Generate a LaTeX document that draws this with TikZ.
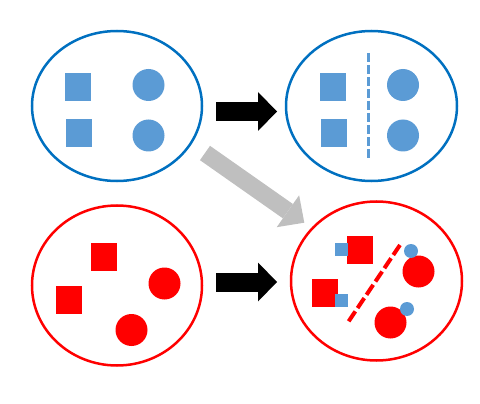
\documentclass[tikz,border=0pt]{standalone}
\usepackage{tikz}
\usetikzlibrary{shapes,arrows.meta,positioning,calc}
\definecolor{ringblue}{RGB}{0,112,192}
\definecolor{dotblue}{RGB}{91,155,213}
\definecolor{arrowgray}{RGB}{191,191,191}

\begin{document}
\begin{tikzpicture}[x=1pt,y=-1pt]
    % Stili
    \tikzset{
        cluster/.style={ellipse, draw, line width=2.5pt, inner sep=0pt, minimum width=170pt, minimum height=150pt},
        sq/.style={rectangle, inner sep=0pt, minimum width=26pt, minimum height=28pt},
        dot/.style={circle, inner sep=0pt, minimum size=32pt},
        minisq/.style={rectangle, fill=dotblue, inner sep=0pt, minimum size=13pt},
        minidot/.style={circle, fill=dotblue, inner sep=0pt, minimum size=14pt},
        bigarrow/.style={-{Triangle[length=19pt, width=39pt, line width=0pt]}, line width=19pt, black},
        slantarrow/.style={-{Triangle[length=20pt, width=39pt, line width=0pt]}, line width=17.5pt, arrowgray},
        divider/.style={line width=3pt, dash pattern=on 9pt off 3pt}
    }
    \useasboundingbox (0,0) rectangle (480,404);

    % Gruppi
    \node[cluster, draw=ringblue] (tl) at (117,106) {};
    \node[cluster, draw=ringblue, minimum width=171pt] (tr) at (371.5,106) {};
    \node[cluster, draw=red, minimum height=160pt] (bl) at (117,285.5) {};
    \node[cluster, draw=red, minimum width=171pt, minimum height=159pt] (br) at (376.5,281) {};

    % Elementi blu (sopra)
    \foreach \g/\dx in {tl/0, tr/254.5} {
        \node[sq, fill=dotblue] (\g-sq1) at (78+\dx,87) {};
        \node[sq, fill=dotblue] (\g-sq2) at (79+\dx,133) {};
        \node[dot, fill=dotblue] (\g-dot1) at (148.5+\dx,85) {};
        \node[dot, fill=dotblue] (\g-dot2) at (148.5+\dx,135.5) {};
    }
    \draw[divider, dotblue] ([xshift=-3.5pt,yshift=53pt]tr.center) -- ([xshift=-3.5pt,yshift=-54pt]tr.center);

    % Elementi rossi (sotto)
    \node[sq, fill=red] (bl-sq1) at (104,256.5) {};
    \node[sq, fill=red] (bl-sq2) at (69,299.5) {};
    \node[dot, fill=red] (bl-dot1) at (164.5,283.5) {};
    \node[dot, fill=red] (bl-dot2) at (131.5,330) {};

    \node[sq, fill=red] (br-sq1) at (360,250) {};
    \node[sq, fill=red] (br-sq2) at (325,293) {};
    \node[dot, fill=red] (br-dot1) at (418.5,271.5) {};
    \node[dot, fill=red] (br-dot2) at (390.5,322.5) {};
    \node[minisq] (br-msq1) at (341.5,249) {};
    \node[minisq] (br-msq2) at (341,300.5) {};
    \node[minidot] (br-mdot1) at (411,251) {};
    \node[minidot] (br-mdot2) at (407,309) {};
    \draw[red, line width=4pt, dash pattern=on 12pt off 4pt] ([xshift=23.5pt,yshift=36pt]br.center) -- ([xshift=-29.2pt,yshift=-42.3pt]br.center);

    % Frecce
    \draw[bigarrow] ([xshift=99pt,yshift=-5.5pt]tl.center) -- ([xshift=-94.5pt,yshift=-5.5pt]tr.center);
    \draw[bigarrow] ([xshift=99pt,yshift=3.5pt]bl.center) -- ([xshift=-99.5pt,yshift=-1pt]br.center);
    \draw[slantarrow] ([xshift=88pt,yshift=-47pt]tl.center) -- ([xshift=-72.2pt,yshift=58.3pt]br.center);

\end{tikzpicture}
\end{document}
